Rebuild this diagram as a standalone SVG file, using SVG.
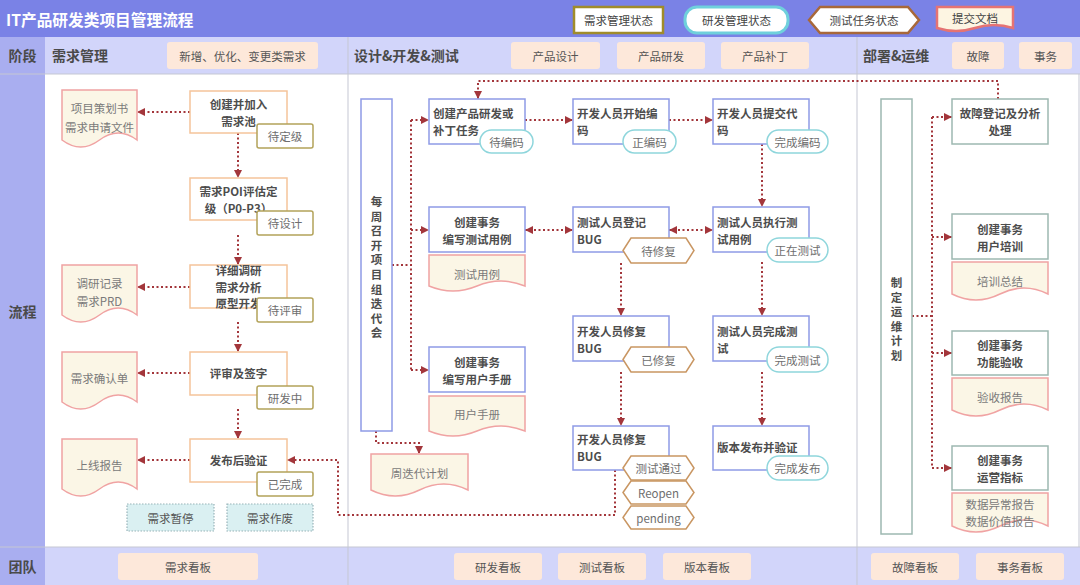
<svg xmlns="http://www.w3.org/2000/svg" width="1080" height="585" viewBox="0 0 1080 585">
<defs>
<style>
text{font-family:"Noto Sans CJK SC","Noto Sans",sans-serif;dominant-baseline:central}
.nt{font-size:11.5px;font-weight:bold;fill:#4d4d4d}
.st{font-size:11.5px;fill:#6e6e6e;text-anchor:middle}
.dt{font-size:11.5px;fill:#7a7a7a;text-anchor:middle}
.pt{font-size:11.5px;fill:#555;text-anchor:middle}
.hd{font-size:14px;font-weight:bold;fill:#4a4a4a}
.c{text-anchor:middle}
.pill{fill:#fde8da}
.nodeO{fill:#fff;stroke:#f5c49a;stroke-width:1.5}
.nodeB{fill:#fff;stroke:#8e9be6;stroke-width:1.5}
.nodeG{fill:#fff;stroke:#9db8b1;stroke-width:1.5}
.sO{fill:#fff;stroke:#b3a35a;stroke-width:1.5}
.sC{fill:#fff;stroke:#8fd6dc;stroke-width:1.5}
.sH{fill:#fff;stroke:#c99662;stroke-width:1.5}
.doc{fill:#fbf6e6;stroke:#f0a3a3;stroke-width:1.5}
.conn{fill:none;stroke:#a3363b;stroke-width:2;stroke-dasharray:2 2.5}
.arr{marker-end:url(#ah)}
.bi{marker-end:url(#ah);marker-start:url(#ah)}
.div{stroke:#c5c7d3;stroke-width:1}
</style>
<marker id="ah" viewBox="0 0 10 10" refX="10" refY="5" markerWidth="9" markerHeight="8" markerUnits="userSpaceOnUse" orient="auto-start-reverse">
<path d="M0,0 L10,5 L0,10 z" fill="#a3363b"/>
</marker>
</defs>

<!-- background -->
<rect x="0" y="0" width="1080" height="585" fill="#fff"/>
<rect x="0" y="0" width="1080" height="37" fill="#7a82e6"/>
<rect x="0" y="37" width="1080" height="37" fill="#d2d5fa"/>
<rect x="0" y="547" width="1080" height="38" fill="#d2d5fa"/>
<rect x="0" y="37" width="45" height="548" fill="#a9aef0"/>
<line class="div" x1="348" y1="37" x2="348" y2="585"/>
<line class="div" x1="857" y1="37" x2="857" y2="585"/>
<line class="div" x1="0" y1="74" x2="1080" y2="74"/>
<line class="div" x1="0" y1="547" x2="1080" y2="547"/>
<line class="div" x1="1079" y1="74" x2="1079" y2="547"/>

<text x="6" y="19" style="font-size:15.7px;font-weight:bold;fill:#fff">IT产品研发类项目管理流程</text>

<!-- legend -->
<g id="legend">
<rect x="574" y="7" width="89" height="26" fill="#fff" stroke="#a08c2a" stroke-width="2.5"/>
<text x="618.5" y="20" class="st" style="fill:#444">需求管理状态</text>
<rect x="685" y="7" width="103" height="26" rx="12" fill="#fff" stroke="#6fd0dc" stroke-width="3"/>
<text x="736.5" y="20" class="st" style="fill:#444">研发管理状态</text>
<polygon points="809,20 820,7 908,7 919,20 908,33 820,33" fill="#fff" stroke="#a8683a" stroke-width="2.5"/>
<text x="864" y="20" class="st" style="fill:#444">测试任务状态</text>
<path d="M937,7 H1013 V28 Q994,22 975,28 T937,28 Z" fill="#fdf5e2" stroke="#e57373" stroke-width="2.5"/>
<text x="975" y="18" class="st" style="fill:#444">提交文档</text>
</g>

<!-- header row -->
<g id="header-row">
<text x="22.5" y="55" class="hd c">阶段</text>
<text x="52" y="55" class="hd">需求管理</text>
<text x="354" y="55" class="hd">设计&amp;开发&amp;测试</text>
<text x="863" y="55" class="hd">部署&amp;运维</text>
<rect class="pill" x="167" y="42" width="151" height="27" rx="3"/>
<text x="242.5" y="55.5" class="pt">新增、优化、变更类需求</text>
<rect class="pill" x="511" y="42" width="89" height="27" rx="3"/>
<text x="555.5" y="55.5" class="pt">产品设计</text>
<rect class="pill" x="617" y="42" width="88" height="27" rx="3"/>
<text x="661" y="55.5" class="pt">产品研发</text>
<rect class="pill" x="721" y="42" width="88" height="27" rx="3"/>
<text x="765" y="55.5" class="pt">产品补丁</text>
<rect class="pill" x="952" y="42" width="52" height="27" rx="3"/>
<text x="978" y="55.5" class="pt">故障</text>
<rect class="pill" x="1019" y="42" width="53" height="27" rx="3"/>
<text x="1045.5" y="55.5" class="pt">事务</text>
</g>

<text x="22.5" y="311" class="hd c">流程</text>

<!-- bottom row -->
<g id="team-row">
<text x="22.5" y="566" class="hd c">团队</text>
<rect class="pill" x="118" y="553" width="140" height="27" rx="3"/>
<text x="188" y="566.5" class="pt">需求看板</text>
<rect class="pill" x="454" y="553" width="88" height="27" rx="3"/>
<text x="498" y="566.5" class="pt">研发看板</text>
<rect class="pill" x="558" y="553" width="88" height="27" rx="3"/>
<text x="602" y="566.5" class="pt">测试看板</text>
<rect class="pill" x="663" y="553" width="88" height="27" rx="3"/>
<text x="707" y="566.5" class="pt">版本看板</text>
<rect class="pill" x="871" y="553" width="88" height="27" rx="3"/>
<text x="915" y="566.5" class="pt">故障看板</text>
<rect class="pill" x="976" y="553" width="88" height="27" rx="3"/>
<text x="1020" y="566.5" class="pt">事务看板</text>
</g>

<!-- connectors -->
<g id="connectors">
<path class="conn arr" d="M190,112 H137"/>
<path class="conn arr" d="M238,133 V178"/>
<path class="conn arr" d="M238,235 V265"/>
<path class="conn arr" d="M190,287 H137"/>
<path class="conn arr" d="M238,322 V352"/>
<path class="conn arr" d="M190,373 H137"/>
<path class="conn arr" d="M238,409 V439"/>
<path class="conn arr" d="M190,460 H137"/>
<path class="conn arr" d="M615,470 V515 H338 V460 H287"/>
<path class="conn" d="M392,265 H411 M411,120 V370"/>
<path class="conn arr" d="M411,120 H429"/>
<path class="conn arr" d="M411,230 H429"/>
<path class="conn arr" d="M411,370 H429"/>
<path class="conn arr" d="M376,431 V443 H419 V454"/>
<path class="conn arr" d="M998,99 V81 H478 V99"/>
<path class="conn arr" d="M525,120 H573"/>
<path class="conn arr" d="M669,120 H713"/>
<path class="conn arr" d="M762,144 V207"/>
<path class="conn bi" d="M525,230 H573"/>
<path class="conn bi" d="M669,230 H713"/>
<path class="conn arr" d="M621,263 V316"/>
<path class="conn arr" d="M621,372 V426"/>
<path class="conn arr" d="M762,262 V316"/>
<path class="conn arr" d="M762,372 V426"/>
<path class="conn" d="M912,316 H932 M932,117 V468"/>
<path class="conn arr" d="M932,117 H952"/>
<path class="conn arr" d="M932,237 H952"/>
<path class="conn arr" d="M932,353 H952"/>
<path class="conn arr" d="M932,468 H952"/>
</g>

<!-- 需求管理 column -->
<g id="n-create-pool">
<rect class="nodeO" x="190" y="91" width="97" height="42"/>
<text x="238.5" y="104" class="nt c">创建并加入</text>
<text x="238.5" y="121" class="nt c">需求池</text>
<rect class="sO" x="257" y="124" width="56" height="24" rx="2"/>
<text x="285" y="136" class="st">待定级</text>
</g>
<g id="d-plan">
<path class="doc" d="M62,90 H137 V140 Q118.25,126 99.5,140 T62,140 Z"/>
<text x="99.5" y="108" class="dt">项目策划书</text>
<text x="99.5" y="127" class="dt">需求申请文件</text>
</g>
<g id="n-poi">
<rect class="nodeO" x="190" y="178" width="97" height="42"/>
<text x="238.5" y="191" class="nt c">需求POI评估定</text>
<text x="238.5" y="208" class="nt c">级（P0-P3）</text>
<rect class="sO" x="257" y="211" width="56" height="24" rx="2"/>
<text x="285" y="223" class="st">待设计</text>
</g>
<g id="n-research">
<rect class="nodeO" x="190" y="265" width="97" height="43"/>
<text x="238.5" y="270" class="nt c">详细调研</text>
<text x="238.5" y="286.7" class="nt c">需求分析</text>
<text x="238.5" y="303.4" class="nt c">原型开发</text>
<rect class="sO" x="257" y="298" width="56" height="24" rx="2"/>
<text x="285" y="310" class="st">待评审</text>
</g>
<g id="d-prd">
<path class="doc" d="M62,265 H137 V315 Q118.25,301 99.5,315 T62,315 Z"/>
<text x="99.5" y="283" class="dt">调研记录</text>
<text x="99.5" y="301" class="dt">需求PRD</text>
</g>
<g id="n-review">
<rect class="nodeO" x="190" y="352" width="97" height="43"/>
<text x="238.5" y="373" class="nt c">评审及签字</text>
<rect class="sO" x="257" y="386" width="56" height="23" rx="2"/>
<text x="285" y="397.5" class="st">研发中</text>
</g>
<g id="d-confirm">
<path class="doc" d="M62,352 H137 V402 Q118.25,388 99.5,402 T62,402 Z"/>
<text x="99.5" y="378" class="dt">需求确认单</text>
</g>
<g id="n-verify">
<rect class="nodeO" x="190" y="439" width="97" height="43"/>
<text x="238.5" y="460" class="nt c">发布后验证</text>
<rect class="sO" x="257" y="472" width="56" height="24" rx="2"/>
<text x="285" y="484" class="st">已完成</text>
</g>
<g id="d-online">
<path class="doc" d="M62,439 H137 V489 Q118.25,475 99.5,489 T62,489 Z"/>
<text x="99.5" y="465" class="dt">上线报告</text>
</g>
<g id="n-pause">
<rect x="127" y="504" width="87" height="27" fill="#daf0f2" stroke="#98b3b8" stroke-width="1.2" stroke-dasharray="1.5 1.5"/>
<text x="170.5" y="517.5" class="st" style="fill:#555">需求暂停</text>
</g>
<g id="n-cancel">
<rect x="227" y="504" width="86" height="27" fill="#daf0f2" stroke="#98b3b8" stroke-width="1.2" stroke-dasharray="1.5 1.5"/>
<text x="270" y="517.5" class="st" style="fill:#555">需求作废</text>
</g>

<!-- 设计&开发&测试 column -->
<g id="n-weekly">
<rect class="nodeB" x="361" y="99" width="31" height="332"/>
<text x="376.5" class="nt c"><tspan x="376.5" y="201">每</tspan><tspan x="376.5" y="215.6">周</tspan><tspan x="376.5" y="230.2">召</tspan><tspan x="376.5" y="244.8">开</tspan><tspan x="376.5" y="259.4">项</tspan><tspan x="376.5" y="274">目</tspan><tspan x="376.5" y="288.6">组</tspan><tspan x="376.5" y="303.2">迭</tspan><tspan x="376.5" y="317.8">代</tspan><tspan x="376.5" y="332.4">会</tspan></text>
</g>
<g id="d-weekly-plan">
<path class="doc" d="M371,454 H468 V490 Q443.75,478 419.5,490 T371,490 Z"/>
<text x="419.5" y="473" class="dt">周迭代计划</text>
</g>
<g id="n-create-task">
<rect class="nodeB" x="429" y="99" width="96" height="45"/>
<text x="433" y="113" class="nt">创建产品研发或</text>
<text x="433" y="130" class="nt">补丁任务</text>
<rect class="sC" x="480" y="130" width="53" height="23" rx="11.5"/>
<text x="506.5" y="141.5" class="st">待编码</text>
</g>
<g id="n-start-code">
<rect class="nodeB" x="573" y="99" width="96" height="45"/>
<text x="577" y="113" class="nt">开发人员开始编</text>
<text x="577" y="130" class="nt">码</text>
<rect class="sC" x="623" y="130" width="53" height="23" rx="11.5"/>
<text x="649.5" y="141.5" class="st">正编码</text>
</g>
<g id="n-submit-code">
<rect class="nodeB" x="713" y="99" width="96" height="45"/>
<text x="717" y="113" class="nt">开发人员提交代</text>
<text x="717" y="130" class="nt">码</text>
<rect class="sC" x="767" y="130" width="61" height="23" rx="11.5"/>
<text x="797.5" y="141.5" class="st">完成编码</text>
</g>
<g id="n-testcase">
<rect class="nodeB" x="429" y="207" width="96" height="45"/>
<text x="477" y="222" class="nt c">创建事务</text>
<text x="477" y="239" class="nt c">编写测试用例</text>
</g>
<g id="d-testcase">
<path class="doc" d="M429,255 H525 V286 Q501,276 477,286 T429,286 Z"/>
<text x="477" y="274" class="dt">测试用例</text>
</g>
<g id="n-log-bug">
<rect class="nodeB" x="573" y="207" width="96" height="45"/>
<text x="577" y="222" class="nt">测试人员登记</text>
<text x="577" y="239" class="nt">BUG</text>
<polygon class="sH" points="623,250.5 631,238 686,238 694,250.5 686,263 631,263"/>
<text x="658.5" y="250.5" class="st">待修复</text>
</g>
<g id="n-exec-test">
<rect class="nodeB" x="713" y="207" width="96" height="45"/>
<text x="717" y="222" class="nt">测试人员执行测</text>
<text x="717" y="239" class="nt">试用例</text>
<rect class="sC" x="767" y="238" width="61" height="24" rx="12"/>
<text x="797.5" y="250" class="st">正在测试</text>
</g>
<g id="n-fix-bug-1">
<rect class="nodeB" x="573" y="316" width="96" height="45"/>
<text x="577" y="331" class="nt">开发人员修复</text>
<text x="577" y="348" class="nt">BUG</text>
<polygon class="sH" points="623,359.5 631,347 686,347 694,359.5 686,372 631,372"/>
<text x="658.5" y="359.5" class="st">已修复</text>
</g>
<g id="n-test-done">
<rect class="nodeB" x="713" y="316" width="96" height="45"/>
<text x="717" y="331" class="nt">测试人员完成测</text>
<text x="717" y="348" class="nt">试</text>
<rect class="sC" x="767" y="347" width="61" height="25" rx="12"/>
<text x="797.5" y="359.5" class="st">完成测试</text>
</g>
<g id="n-manual">
<rect class="nodeB" x="429" y="347" width="96" height="45"/>
<text x="477" y="362" class="nt c">创建事务</text>
<text x="477" y="379" class="nt c">编写用户手册</text>
</g>
<g id="d-manual">
<path class="doc" d="M429,396 H525 V431 Q501,421 477,431 T429,431 Z"/>
<text x="477" y="414" class="dt">用户手册</text>
</g>
<g id="n-fix-bug-2">
<rect class="nodeB" x="573" y="426" width="96" height="44"/>
<text x="577" y="439" class="nt">开发人员修复</text>
<text x="577" y="456" class="nt">BUG</text>
<polygon class="sH" points="623,468 631,456 686,456 694,468 686,480 631,480"/>
<text x="658.5" y="468" class="st">测试通过</text>
<polygon class="sH" points="623,492.5 631,481 686,481 694,492.5 686,504 631,504"/>
<text x="658.5" y="492.5" class="st">Reopen</text>
<polygon class="sH" points="623,517.5 631,506 686,506 694,517.5 686,529 631,529"/>
<text x="658.5" y="517.5" class="st">pending</text>
</g>
<g id="n-release">
<rect class="nodeB" x="713" y="426" width="96" height="44"/>
<text x="717" y="447" class="nt">版本发布并验证</text>
<rect class="sC" x="767" y="456" width="61" height="24" rx="12"/>
<text x="797.5" y="468" class="st">完成发布</text>
</g>

<!-- 部署&运维 column -->
<g id="n-ops-plan">
<rect class="nodeG" x="881" y="99" width="31" height="435"/>
<text x="896.5" class="nt c"><tspan x="896.5" y="282">制</tspan><tspan x="896.5" y="296.5">定</tspan><tspan x="896.5" y="311">运</tspan><tspan x="896.5" y="325.5">维</tspan><tspan x="896.5" y="340">计</tspan><tspan x="896.5" y="354.5">划</tspan></text>
</g>
<g id="n-fault">
<rect class="nodeG" x="952" y="99" width="96" height="45"/>
<text x="1000" y="113" class="nt c">故障登记及分析</text>
<text x="1000" y="130" class="nt c">处理</text>
</g>
<g id="n-training">
<rect class="nodeG" x="952" y="214" width="96" height="45"/>
<text x="1000" y="229" class="nt c">创建事务</text>
<text x="1000" y="246" class="nt c">用户培训</text>
</g>
<g id="d-training">
<path class="doc" d="M952,262 H1048 V294 Q1024,282 1000,294 T952,294 Z"/>
<text x="1000" y="281" class="dt">培训总结</text>
</g>
<g id="n-accept">
<rect class="nodeG" x="952" y="331" width="96" height="44"/>
<text x="1000" y="345" class="nt c">创建事务</text>
<text x="1000" y="362" class="nt c">功能验收</text>
</g>
<g id="d-accept">
<path class="doc" d="M952,378 H1048 V410 Q1024,398 1000,410 T952,410 Z"/>
<text x="1000" y="397" class="dt">验收报告</text>
</g>
<g id="n-operation">
<rect class="nodeG" x="952" y="446" width="96" height="44"/>
<text x="1000" y="460" class="nt c">创建事务</text>
<text x="1000" y="477" class="nt c">运营指标</text>
</g>
<g id="d-data">
<path class="doc" d="M952,493 H1048 V526 Q1024,514 1000,526 T952,526 Z"/>
<text x="1000" y="503.5" class="dt">数据异常报告</text>
<text x="1000" y="520.5" class="dt">数据价值报告</text>
</g>
</svg>
